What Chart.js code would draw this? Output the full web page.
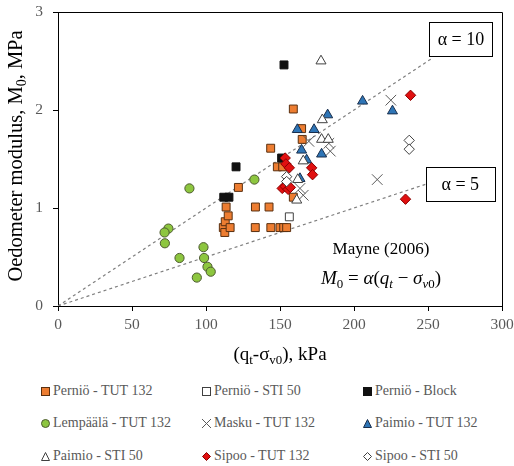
<!DOCTYPE html>
<html>
<head>
<meta charset="utf-8">
<script src="https://cdn.jsdelivr.net/npm/chart.js@4.4.0/dist/chart.umd.min.js"></script>
<style>
body { margin: 0; background: #fff; width: 514px; height: 466px; overflow: hidden; position: relative; font-family: 'Liberation Serif', serif; }
#wrap { position: absolute; left: 0; top: 0; width: 514px; height: 372px; }
.leg { position: absolute; font-family: 'Liberation Serif', serif; font-size: 14px; color: #595959; display: flex; align-items: center; white-space: nowrap; height: 16px; }
.leg svg { margin-right: 2px; }
</style>
</head>
<body>
<div id="wrap"><canvas id="chart"></canvas></div>
<div id="legend"></div>
<script>
// --- Data: [qt - sigma_v0 (kPa), M0 (MPa)] ---
const pernioTut = [[111.7, 0.80], [112.7, 0.75], [113, 0.86], [115, 0.92], [116.3, 0.80], [113.6, 1.01],
    [121.9, 1.21], [133.4, 1.01], [142.6, 1.01], [133.3, 0.80], [143.8, 0.80], [150, 0.80], [152.5, 0.80],
    [154.5, 0.80], [143.7, 1.61], [148.2, 1.42], [151.8, 1.42], [159, 1.11], [159, 2.01], [164.6, 1.81], [165, 1.70]];
const pernioSti = [[156.3, 0.91]];
const pernioBlock = [[152.7, 2.46], [120.3, 1.42], [112, 1.11], [115.5, 1.11], [151.1, 1.51]];
const lempaalaTut = [[88.8, 1.20], [74.6, 0.79], [72, 0.75], [72.2, 0.64], [82.1, 0.49], [98.3, 0.60],
    [98.7, 0.49], [101, 0.40], [103.2, 0.35], [93.8, 0.29], [132.7, 1.29]];
const maskuTut = [[169.5, 1.68], [183, 1.66], [184, 1.58], [163.5, 1.20], [165.7, 1.13], [215.7, 1.29], [224.9, 2.10]];
const paimioTut = [[205.8, 2.09], [226, 1.99], [182.2, 1.95], [173, 1.80], [161.7, 1.80], [164.6, 1.59],
    [178.1, 1.55], [168, 1.49], [163.5, 1.30]];
const paimioSti = [[177.7, 2.50], [178.6, 1.90], [178.1, 1.70], [182.6, 1.70], [165.7, 1.48], [161.3, 1.08], [162, 1.29]];
const sipooTut = [[153.5, 1.51], [154, 1.45], [156.3, 1.41], [171.4, 1.41], [172, 1.34], [151.5, 1.20],
    [153.5, 1.22], [155.5, 1.19], [157, 1.21], [238.2, 2.15], [234.8, 1.09]];
const sipooSti = [[154.5, 1.32], [154.5, 1.27], [237.3, 1.69], [237.3, 1.60]];

// Mayne (2006) reference lines M0 = alpha * (qt - sigma_v0)
const alphaLines = [{ alpha: 10, xEnd: 253 }, { alpha: 5, xEnd: 248.5 }];

const xTicks = [0, 50, 100, 150, 200, 250, 300];
const yTicks = [0, 1, 2, 3];

const series = [
    { name: 'Perniö - TUT 132', data: pernioTut, style: 'rect', fill: '#ED7D31', line: '#5a3010', r: 5.6 },
    { name: 'Perniö - STI 50', data: pernioSti, style: 'rect', fill: '#ffffff', line: '#404040', r: 5.6 },
    { name: 'Perniö - Block', data: pernioBlock, style: 'rect', fill: '#111111', line: '#111111', r: 5.6 },
    { name: 'Lempäälä - TUT 132', data: lempaalaTut, style: 'circle', fill: '#8DC63F', line: '#4d5a30', r: 4.6 },
    { name: 'Masku - TUT 132', data: maskuTut, style: 'crossRot', fill: '#595959', line: '#595959', r: 7.5 },
    { name: 'Paimio - TUT 132', data: paimioTut, style: 'triangle', fill: '#2E75B6', line: '#1a2f4d', r: 5.8 },
    { name: 'Paimio - STI 50', data: paimioSti, style: 'triangle', fill: '#ffffff', line: '#404040', r: 5.8 },
    { name: 'Sipoo - TUT 132', data: sipooTut, style: 'rectRot', fill: '#E01010', line: '#8a0000', r: 5.2 },
    { name: 'Sipoo - STI 50', data: sipooSti, style: 'rectRot', fill: '#ffffff', line: '#404040', r: 5.2 }
];

const SERIF = "'Liberation Serif', serif";

const datasets = series.map((s, i) => ({
    label: s.name,
    data: s.data.map(p => ({ x: p[0], y: p[1] })),
    pointStyle: s.style,
    pointRadius: s.r,
    pointHoverRadius: s.r,
    backgroundColor: s.fill,
    borderColor: s.line,
    pointBorderWidth: 1,
    showLine: false,
    order: 100 - i // later series on top, like the original
}));

alphaLines.forEach(a => {
    datasets.push({
        label: 'alpha ' + a.alpha,
        data: [{ x: 0, y: 0 }, { x: a.xEnd, y: a.alpha * a.xEnd / 1000 }],
        showLine: true,
        borderColor: '#7f7f7f',
        borderWidth: 1.2,
        borderDash: [3, 3],
        pointRadius: 0,
        order: 200
    });
});

// draws text pieces with subscripts / italics, centred on (cx, cy)
function drawRich(ctx, parts, cx, cy, size, rotate) {
    const fontOf = p => (p.it ? 'italic ' : '') + (p.sub ? size * 0.68 : size) + 'px ' + SERIF;
    let total = 0;
    parts.forEach(p => { ctx.font = fontOf(p); p.w = ctx.measureText(p.t).width; total += p.w; });
    ctx.save();
    ctx.translate(cx, cy);
    if (rotate) ctx.rotate(-Math.PI / 2);
    ctx.textBaseline = 'alphabetic';
    ctx.textAlign = 'left';
    let x = -total / 2;
    parts.forEach(p => {
        ctx.font = fontOf(p);
        ctx.fillText(p.t, x, size * 0.33 + (p.sub ? size * 0.22 : 0));
        x += p.w;
    });
    ctx.restore();
}

const decorations = {
    id: 'decorations',
    afterDatasetsDraw(chart) {
        const { ctx, scales: { x, y } } = chart;
        ctx.save();
        ctx.font = '18px ' + SERIF;
        ctx.strokeStyle = '#000';
        ctx.lineWidth = 1;
        // alpha = 10 box sits above the end of its line, alpha = 5 box centred on it
        alphaLines.forEach(a => {
            const ex = x.getPixelForValue(a.xEnd);
            const ey = y.getPixelForValue(a.alpha * a.xEnd / 1000);
            const w = a.alpha === 10 ? 63 : 69, h = 34;
            const left = a.alpha === 10 ? ex - 3 : ex;
            const top = a.alpha === 10 ? ey - h - 2 : ey - h / 2;
            ctx.fillStyle = '#fff';
            ctx.fillRect(left, top, w, h);
            ctx.strokeRect(Math.round(left) + 0.5, Math.round(top) + 0.5, w, h);
            ctx.fillStyle = '#000';
            ctx.textAlign = 'center';
            ctx.textBaseline = 'middle';
            ctx.fillText('α = ' + a.alpha, left + w / 2, top + h / 2 + 1);
        });
        ctx.restore();
    },
    afterDraw(chart) {
        const { ctx, chartArea: ca } = chart;
        ctx.save();
        ctx.strokeStyle = '#000';
        ctx.lineWidth = 1;
        ctx.beginPath();
        ctx.moveTo(ca.left, Math.round(ca.top) + 0.5);
        ctx.lineTo(Math.round(ca.right) + 0.5, Math.round(ca.top) + 0.5);
        ctx.lineTo(Math.round(ca.right) + 0.5, ca.bottom);
        ctx.stroke();

        ctx.fillStyle = '#000';
        ctx.font = '17px ' + SERIF;
        ctx.textAlign = 'center';
        ctx.textBaseline = 'middle';
        ctx.fillText('Mayne (2006)', 381, 250);
        drawRich(ctx, [
            { t: 'M', it: true }, { t: '0', sub: true }, { t: ' = ' }, { t: 'α', it: true }, { t: '(' },
            { t: 'q', it: true }, { t: 't', it: true, sub: true }, { t: ' − ' }, { t: 'σ', it: true },
            { t: 'v', it: true, sub: true }, { t: '0', sub: true }, { t: ')' }
        ], 381, 278, 19);

        // axis titles
        drawRich(ctx, [{ t: '(q' }, { t: 't', sub: true }, { t: '-σ' }, { t: 'v0', sub: true }, { t: '), kPa' }], 280, 354, 19);
        drawRich(ctx, [{ t: 'Oedometer modulus, M' }, { t: '0', sub: true }, { t: ', MPa' }], 15, 156, 20.5, true);
        ctx.restore();
    }
};

const tickFont = { family: SERIF, size: 15.5 };

new Chart(document.getElementById('chart'), {
    type: 'scatter',
    data: { datasets },
    options: {
        responsive: true,
        maintainAspectRatio: false,
        animation: false,
        layout: { padding: { top: 12, right: 12, left: 0, bottom: 0 } },
        plugins: { legend: { display: false }, tooltip: { enabled: false } },
        scales: {
            x: {
                type: 'linear', min: 0, max: 300,
                afterBuildTicks: s => { s.ticks = xTicks.map(v => ({ value: v })); },
                ticks: { color: '#595959', font: tickFont, padding: 5 },
                grid: { drawOnChartArea: false, tickLength: 5, color: '#000' },
                border: { color: '#000' },
                afterFit: s => { s.height = 66; s.paddingLeft = 0; s.paddingRight = 0; }
            },
            y: {
                type: 'linear', min: 0, max: 3,
                afterBuildTicks: s => { s.ticks = yTicks.map(v => ({ value: v })); },
                ticks: { color: '#595959', font: tickFont, padding: 10 },
                grid: { drawOnChartArea: false, tickLength: 5, color: '#000' },
                border: { color: '#000' },
                afterFit: s => { s.width = 58; s.paddingTop = 0; s.paddingBottom = 0; }
            }
        }
    },
    plugins: [decorations]
});

// --- HTML legend, 3 columns x 3 rows ---
function markerSvg(s) {
    let shape = '';
    if (s.style === 'rect') shape = `<rect x="1.5" y="1.5" width="8" height="8" fill="${s.fill}" stroke="${s.line}"/>`;
    else if (s.style === 'circle') shape = `<circle cx="5.5" cy="5.5" r="4" fill="${s.fill}" stroke="${s.line}"/>`;
    else if (s.style === 'triangle') shape = `<polygon points="5.5,1.5 9.5,9.5 1.5,9.5" fill="${s.fill}" stroke="${s.line}"/>`;
    else if (s.style === 'rectRot') shape = `<polygon points="5.5,1.5 9.5,5.5 5.5,9.5 1.5,5.5" fill="${s.fill}" stroke="${s.line}"/>`;
    else shape = `<path d="M1,1 L10,10 M10,1 L1,10" stroke="${s.line}" stroke-width="1"/>`;
    return `<svg width="11" height="11">${shape}</svg>`;
}
const legendCols = [40, 201, 362];
const legendRows = [383, 415, 448];
const legendDiv = document.getElementById('legend');
series.forEach((s, i) => {
    const item = document.createElement('div');
    item.className = 'leg';
    item.style.left = legendCols[i % 3] + 'px';
    item.style.top = legendRows[Math.floor(i / 3)] + 'px';
    item.innerHTML = markerSvg(s) + '<span>' + s.name + '</span>';
    legendDiv.appendChild(item);
});
</script>
</body>
</html>
